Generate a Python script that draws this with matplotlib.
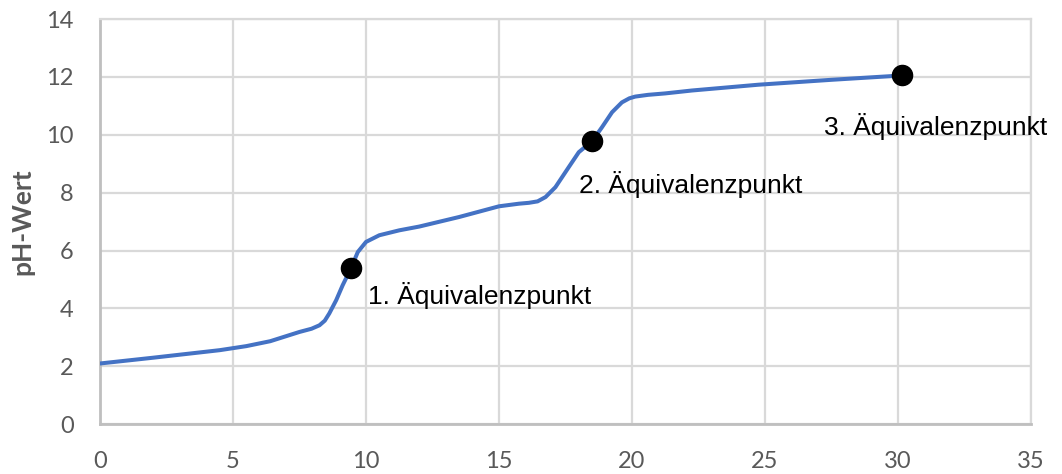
import matplotlib
matplotlib.use("Agg")
import matplotlib.pyplot as plt

# titration curve
volume = [0, 2, 4.5, 5.5, 6.4, 7.5, 7.95, 8.25, 8.45, 8.62, 8.88, 9.12, 9.44,
          9.69, 10.0, 10.5, 11.25, 12, 13.5, 15, 15.75, 16.12, 16.45, 16.75,
          17.12, 17.62, 18.0, 18.5, 18.87, 19.25, 19.62, 19.9, 20.12, 20.6,
          21.25, 22.25, 24.75, 27.5, 30.15]
ph = [2.1, 2.3, 2.56, 2.7, 2.87, 3.19, 3.3, 3.42, 3.58, 3.83, 4.29, 4.8, 5.4,
      5.95, 6.3, 6.53, 6.7, 6.83, 7.16, 7.53, 7.62, 7.65, 7.7, 7.85, 8.19,
      8.88, 9.4, 9.78, 10.26, 10.78, 11.12, 11.26, 11.32, 11.38, 11.43, 11.53,
      11.73, 11.9, 12.05]

eq_x = [9.44, 18.5, 30.15]
eq_y = [5.4, 9.78, 12.05]
eq_labels = ["1. Äquivalenzpunkt", "2. Äquivalenzpunkt", "3. Äquivalenzpunkt"]
label_x = [10.06, 18.0, 27.2]
label_y = [4.15, 7.99, 9.98]

x_ticks = [0, 5, 10, 15, 20, 25, 30, 35]
y_ticks = [0, 2, 4, 6, 8, 10, 12, 14]

fig = plt.figure(figsize=(10.62, 4.74), dpi=100)
ax = fig.add_axes([0.0942, 0.1049, 0.8766, 0.855])

ax.plot(volume, ph, color="#4472C4", linewidth=2.9, solid_capstyle="round",
        solid_joinstyle="round", zorder=3)
ax.plot(eq_x, eq_y, "o", color="black", markersize=14.5, zorder=4)
for lx, ly, txt in zip(label_x, label_y, eq_labels):
    ax.text(lx, ly, txt, fontsize=19, family="Liberation Sans", color="black",
            ha="left", va="baseline", zorder=5)

ax.set_xlim(0, 35)
ax.set_ylim(0, 14)
ax.set_xticks(x_ticks)
ax.set_yticks(y_ticks)
ax.grid(True, color="#d9d9d9", linewidth=1.6, zorder=0)
ax.set_axisbelow(True)

for side in ["top", "right"]:
    ax.spines[side].set_color("#d9d9d9")
    ax.spines[side].set_linewidth(1.6)
for side in ["left", "bottom"]:
    ax.spines[side].set_color("#bfbfbf")
    ax.spines[side].set_linewidth(2)

ax.tick_params(length=0, labelsize=17, labelcolor="#595959", pad=19)
for lab in ax.get_xticklabels() + ax.get_yticklabels():
    lab.set_family("Lato")
ax.tick_params(axis="x", pad=19)

ax.set_ylabel("pH-Wert", fontsize=19, fontweight="bold", color="#595959",
              family="Lato")
ax.yaxis.set_label_coords(-0.07, 0.5)

fig.savefig("out.png", dpi=100)
